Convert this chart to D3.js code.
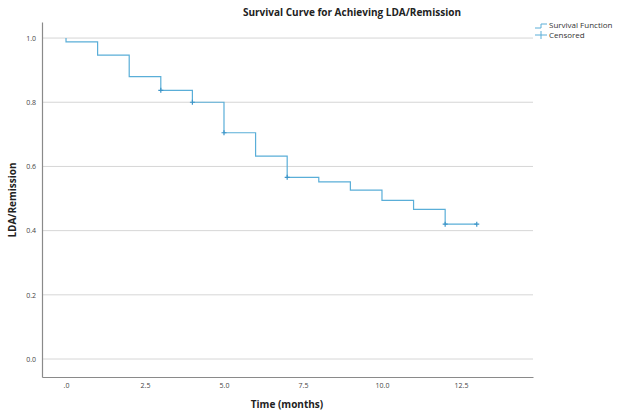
<!DOCTYPE html>
<html>
<head>
<meta charset="utf-8">
<script src="https://cdn.jsdelivr.net/npm/d3@7"></script>
<style>
  body { margin: 0; background: #fff; }
  text { font-family: "Open Sans", "Liberation Sans", sans-serif; }
</style>
</head>
<body>
<div id="chart"></div>
<script>
// Kaplan-Meier step data (time in months, survival probability)
const times = [0, 1, 2, 3, 4, 5, 6, 7, 8, 9, 10, 11, 12, 13];
const survival = [0.988, 0.947, 0.880, 0.837, 0.800, 0.705, 0.632, 0.566, 0.552, 0.526, 0.494, 0.466, 0.420, 0.420];
// censored observations
const censorTimes = [3, 4, 5, 7, 12, 13];
const censorValues = [0.837, 0.800, 0.705, 0.566, 0.420, 0.420];
const xTicks = [0, 2.5, 5, 7.5, 10, 12.5];
const yTicks = [0, 0.2, 0.4, 0.6, 0.8, 1.0];

const width = 617, height = 412;
const lineColor = "#5aaed8";

const svg = d3.select("#chart")
    .append("svg")
    .attr("width", width)
    .attr("height", height);

const xScale = d3.scaleLinear()
    .domain([-0.76, 14.78])
    .range([42, 533]);

const yScale = d3.scaleLinear()
    .domain([-0.056, 1.05])
    .range([377, 22]);

// grid lines
svg.append("g")
    .selectAll("line")
    .data(yTicks)
    .enter()
    .append("line")
    .attr("x1", 42)
    .attr("x2", 533)
    .attr("y1", d => yScale(d))
    .attr("y2", d => yScale(d))
    .attr("stroke", "#d6d6d6")
    .attr("stroke-width", 1);

// axes
const xAxis = svg.append("g")
    .attr("transform", "translate(0,377)")
    .call(d3.axisBottom(xScale).tickValues(xTicks).tickSize(0).tickPadding(6)
        .tickFormat(d => d === 0 ? ".0" : d3.format(".1f")(d)));

const yAxis = svg.append("g")
    .attr("transform", "translate(42,0)")
    .call(d3.axisLeft(yScale).tickValues(yTicks).tickSize(0).tickPadding(6)
        .tickFormat(d3.format(".1f")));

[xAxis, yAxis].forEach(a => {
    a.select(".domain").attr("stroke", "#8a8a8a").attr("stroke-width", 1.2);
    a.selectAll("text").style("font-size", "7px").attr("fill", "#444");
});

// survival step line: start at 1.0 at time 0, each value holds until the next time
const stepData = [{ t: times[0], s: 1.0 }].concat(times.map((t, i) => ({ t: t, s: survival[i] })));

svg.append("path")
    .datum(stepData)
    .attr("fill", "none")
    .attr("stroke", lineColor)
    .attr("stroke-width", 1.2)
    .attr("d", d3.line()
        .x(d => xScale(d.t))
        .y(d => yScale(d.s))
        .curve(d3.curveStepAfter));

// censored markers
svg.selectAll(".censor")
    .data(censorTimes.map((t, i) => ({ t: t, s: censorValues[i] })))
    .enter()
    .append("path")
    .attr("class", "censor")
    .attr("transform", d => `translate(${xScale(d.t)},${yScale(d.s)})`)
    .attr("d", "M-2.5,0H2.5M0,-2.5V2.5")
    .attr("stroke", "#3d95c8")
    .attr("stroke-width", 1.2);

// title
svg.append("text")
    .attr("x", 352)
    .attr("y", 16)
    .attr("text-anchor", "middle")
    .style("font-size", "10px")
    .style("font-weight", "bold")
    .attr("fill", "#222")
    .text("Survival Curve for Achieving LDA/Remission");

// axis titles
svg.append("text")
    .attr("x", 287)
    .attr("y", 408)
    .attr("text-anchor", "middle")
    .style("font-size", "10px")
    .style("font-weight", "bold")
    .attr("fill", "#222")
    .text("Time (months)");

svg.append("text")
    .attr("transform", "translate(16,200) rotate(-90)")
    .attr("text-anchor", "middle")
    .style("font-size", "10px")
    .style("font-weight", "bold")
    .attr("fill", "#222")
    .text("LDA/Remission");

// legend
const legend = svg.append("g").attr("transform", "translate(535,0)");
legend.append("path")
    .attr("d", "M0,28H6V24H12")
    .attr("fill", "none")
    .attr("stroke", lineColor)
    .attr("stroke-width", 1);
legend.append("path")
    .attr("d", "M0,35H12M6,31V39")
    .attr("stroke", lineColor)
    .attr("stroke-width", 1);
legend.append("text")
    .attr("x", 14)
    .attr("y", 28)
    .style("font-size", "8px")
    .attr("fill", "#333")
    .text("Survival Function");
legend.append("text")
    .attr("x", 14)
    .attr("y", 38)
    .style("font-size", "8px")
    .attr("fill", "#333")
    .text("Censored");
</script>
</body>
</html>
